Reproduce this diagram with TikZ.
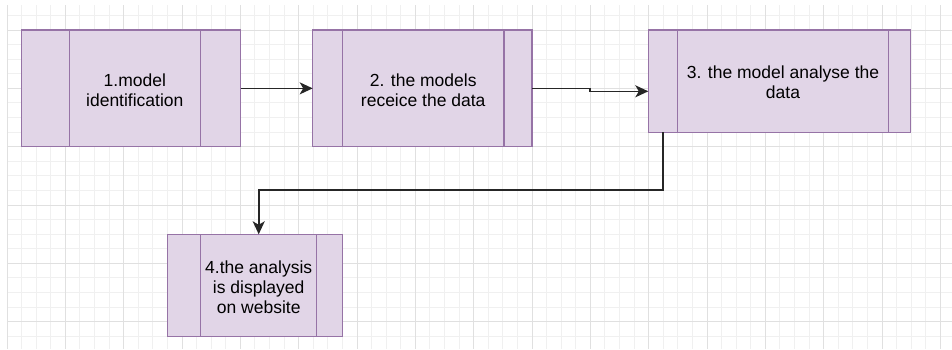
\documentclass[tikz,border=0pt]{standalone}
\usepackage{fontspec}
\setmainfont{Liberation Sans}
\usetikzlibrary{arrows.meta}
\definecolor{procfill}{HTML}{E1D5E7}
\definecolor{procline}{HTML}{9673A6}
\definecolor{gridmajor}{HTML}{E0E0E0}
\definecolor{gridminor}{HTML}{F0F0F0}
\tikzset{
  minorline/.style={gridminor, line width=0.9pt},
  majorline/.style={gridmajor, line width=1pt},
  procbox/.style={draw=procline, fill=procfill, line width=1.45pt,
    rectangle, inner sep=0pt, outer sep=0pt},
  divider/.style={procline, line width=1.45pt},
  proctext/.style={align=center, inner sep=0pt, text=black,
    font=\fontsize{17.5}{20}\selectfont},
  flow/.style={black!85, line width=1.6pt,
    -{Stealth[length=13pt, width=12pt, inset=3.5pt]}},
}
\begin{document}
\begin{tikzpicture}[x=1pt, y=-1pt]
  \useasboundingbox (0,0) rectangle (952,349);
  \fill[white] (0,0) rectangle (952,349);

  % background grid: minor every 14.583, major every 4 minor steps
  \begin{scope}
    \clip (7,5) rectangle (952,349);
    \foreach \i in {0,...,64}
      \draw[minorline] ({7+\i*14.5833},5) -- ({7+\i*14.5833},349);
    \foreach \j in {-1,...,22}
      \draw[minorline] (7,{30+\j*14.5833}) -- (952,{30+\j*14.5833});
    \foreach \i in {0,...,16}
      \draw[majorline] ({7+\i*58.3333},5) -- ({7+\i*58.3333},349);
    \foreach \j in {-1,...,6}
      \draw[majorline] (7,{30+\j*58.3333}) -- (952,{30+\j*58.3333});
  \end{scope}

  % process boxes
  \node[procbox, minimum width=219pt, minimum height=116.7pt] (b1) at (131.2,88.35) {};
  \node[procbox, minimum width=219.3pt, minimum height=116.7pt] (b2) at (422.35,88.35) {};
  \node[procbox, minimum width=262.4pt, minimum height=102.3pt] (b3) at (779.5,81.15) {};
  \node[procbox, minimum width=175.4pt, minimum height=102.4pt] (b4) at (255,285.5) {};

  % side strips of each process box
  \draw[divider] ([xshift=47.6pt]b1.north west) -- ([xshift=47.6pt]b1.south west);
  \draw[divider] ([xshift=-40.4pt]b1.north east) -- ([xshift=-40.4pt]b1.south east);
  \draw[divider] ([xshift=29.6pt]b2.north west) -- ([xshift=29.6pt]b2.south west);
  \draw[divider] ([xshift=-28pt]b2.north east) -- ([xshift=-28pt]b2.south east);
  \draw[divider] ([xshift=29pt]b3.north west) -- ([xshift=29pt]b3.south west);
  \draw[divider] ([xshift=-22pt]b3.north east) -- ([xshift=-22pt]b3.south east);
  \draw[divider] ([xshift=33.4pt]b4.north west) -- ([xshift=33.4pt]b4.south west);
  \draw[divider] ([xshift=-26pt]b4.north east) -- ([xshift=-26pt]b4.south east);

  % labels, centred between the strips
  \node[proctext] (t1) at (134.8,90) {1.model\\identification};
  \node[proctext] (t2) at (423.2,90) {2. the models\\receice the data};
  \node[proctext] (t3) at (783,82) {3. the model analyse the\\data};
  \node[proctext] (t4) at (258.7,287) {4.the analysis\\is displayed\\on website};

  % connectors
  \coordinate (j1) at (590,91.3);
  \coordinate (j2) at (258.7,190);
  \draw[flow] (b1.east) -- (b2.west);
  \draw[flow] (b2.east) -| (j1) -- (j1 -| b3.west);
  \draw[flow] ([xshift=14.4pt]b3.south west) |- (j2) -- (j2 |- b4.north);
\end{tikzpicture}
\end{document}
